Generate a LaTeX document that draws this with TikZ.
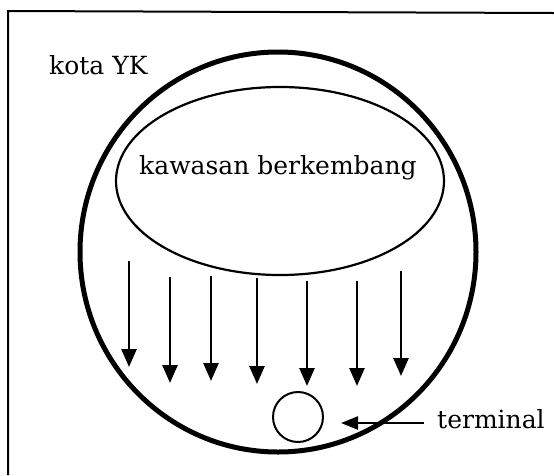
\documentclass[tikz,border=0pt]{standalone}
\usepackage{fontspec}
\setmainfont{DejaVu Serif}
\usetikzlibrary{arrows.meta,shapes.geometric}
\begin{document}
\begin{tikzpicture}[x=1pt,y=-1pt,
  lbl/.style={inner sep=0pt, font=\fontsize{25}{30}\selectfont},
  flow/.style={line width=2.6pt, -{Triangle[length=18pt,width=15pt]}},
  pointer/.style={line width=2.4pt, -{Triangle[length=17pt,width=13pt]}}]
\useasboundingbox (0,0) rectangle (554,475);
% frame (top and left edges only)
\draw[line width=2pt] (8,475) -- (8,11) -- (554,13);
% city
\node[ellipse, draw, line width=5pt, minimum width=396pt, minimum height=400pt, inner sep=0pt] (city) at (278,252) {};
\node[lbl, anchor=base west] (kota) at (49,74) {kota YK};
% developing area
\node[ellipse, draw, line width=2.2pt, minimum width=328pt, minimum height=188pt, inner sep=0pt] (area) at (280,181) {};
\node[lbl, anchor=base] (arealbl) at (278,174) {kawasan berkembang};
% flow arrows
\coordinate (s1) at (129,261); \coordinate (e1) at (129,367);
\coordinate (s2) at (170,277); \coordinate (e2) at (170,383);
\coordinate (s3) at (211,276); \coordinate (e3) at (211,381);
\coordinate (s4) at (257,278); \coordinate (e4) at (257,384);
\coordinate (s5) at (307,281); \coordinate (e5) at (307,386);
\coordinate (s6) at (357,281); \coordinate (e6) at (357,386);
\coordinate (s7) at (401,271); \coordinate (e7) at (401,376);
\foreach \i in {1,...,7} \draw[flow] (s\i) -- (e\i);
% terminal
\node[circle, draw, line width=2pt, minimum size=50pt, inner sep=0pt] (term) at (298,417) {};
\node[lbl, anchor=base west] (termlbl) at (437,428) {terminal};
\coordinate (ts) at (424,423);
\coordinate (te) at (341,423);
\draw[pointer] (ts) -- (te);
\end{tikzpicture}
\end{document}
